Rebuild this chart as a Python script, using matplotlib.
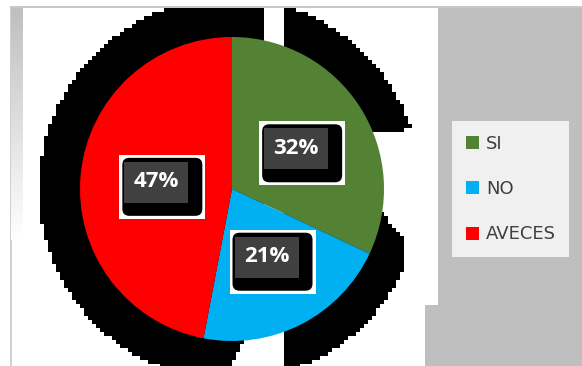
import numpy as np
import matplotlib
matplotlib.use("Agg")
import matplotlib.pyplot as plt
from matplotlib.patches import Rectangle, FancyBboxPatch

# datos
categorias = ["SI", "NO", "AVECES"]
porcentajes = [32, 21, 47]
colores = ["#548235", "#00B0F0", "#FF0000"]

W, H = 582, 366
fig = plt.figure(figsize=(W / 100, H / 100), dpi=100)
ax = fig.add_axes([0, 0, 1, 1])


def Y(y):
    # coordenada de imagen (hacia abajo) -> coordenada de datos
    return H - y


# fondo gris a la derecha y marco
ax.add_patch(Rectangle((438, Y(305)), W - 438, 305 - 8, color="#bfbfbf", lw=0, zorder=0))
ax.add_patch(Rectangle((425, 0), W - 425, Y(305), color="#bfbfbf", lw=0, zorder=0))
ax.add_patch(Rectangle((10, Y(8)), W - 10, 2, color="#c8c8c8", lw=0, zorder=0))
ax.add_patch(Rectangle((10, 0), 1.5, Y(8), color="#d0d0d0", lw=0, zorder=0))
grad = np.linspace(0, 1, 100).reshape(-1, 1)
grad_img = np.ones((100, 1, 4))
grad_img[..., :3] = 0.75 + 0.25 * grad[..., None]
grad_img[..., 3] = 1.0
ax.imshow(grad_img, extent=(11, 23, Y(240), Y(8)), aspect="auto", zorder=0)

# sombra negra escalonada
cx, cy, R = 230, 189, 191
cel = 4
xs = np.arange(0, W + cel, cel) + cel / 2
ys = np.arange(0, H + cel, cel) + cel / 2
XX, YY = np.meshgrid(xs, ys)
mask = (XX - cx) ** 2 + (YY - cy) ** 2 <= R ** 2
mask &= ~((XX > 262) & (XX < 286))
mask &= ~((XX > 243 - (YY - 340) * 0.5) & (XX < 286) & (YY > 330))
mask &= ~((XX > 300) & (YY > 130) & (YY < 213))
mask &= ~((XX > 300) & (XX > 382 + (YY - 213) * 0.8) & (YY >= 213) & (YY < 245))
mask &= ~(XX > 403)
mask |= ((XX - cx) ** 2 + (YY - cy) ** 2 <= R ** 2) & (YY < 130) & (XX > 300)
mask &= YY > 9
sombra = np.zeros(mask.shape + (4,))
sombra[mask, 3] = 1.0
ax.imshow(sombra, extent=(0, xs[-1] + cel / 2, Y(ys[-1] + cel / 2), H),
          origin="upper", interpolation="nearest", aspect="auto", zorder=1)

# pastel
wedges, _, autotexts = ax.pie(
    porcentajes, colors=colores, startangle=90, counterclock=False,
    center=(232, Y(189)), radius=152, autopct="%1.0f%%", pctdistance=0.5,
    wedgeprops=dict(linewidth=0), textprops=dict(color="white"))
for w in wedges:
    w.set_zorder(2)

for t in autotexts:
    t.set_fontfamily("Open Sans")
    t.set_fontweight("bold")
    t.set_fontsize(16)
    t.set_zorder(6)
    tx, ty = t.get_position()
    ax.add_patch(Rectangle((tx - 37, ty - 37), 86, 64, color="white", lw=0, zorder=3))
    ax.add_patch(FancyBboxPatch((tx - 34, ty - 34), 80, 58,
                                boxstyle="round,pad=0,rounding_size=7",
                                fc="black", ec="none", zorder=4))
    ax.add_patch(Rectangle((tx - 32, ty - 21), 64, 41, color="#404040", lw=0, zorder=5))

leg = ax.legend(wedges, categorias, loc="upper left",
                bbox_to_anchor=(452 / W, Y(121) / H), bbox_transform=ax.transAxes,
                frameon=True, fancybox=False, facecolor="#f0f0f0", edgecolor="none",
                framealpha=1, prop=dict(family="DejaVu Sans", size=13),
                labelcolor="#404040", handlelength=0.72, handleheight=0.72,
                handletextpad=0.4, labelspacing=1.52, borderpad=0.75,
                borderaxespad=0)
leg.set_zorder(7)

ax.set_xlim(0, W)
ax.set_ylim(0, H)
ax.set_aspect("equal")
ax.axis("off")

fig.savefig("out.png", dpi=100, facecolor="white")
